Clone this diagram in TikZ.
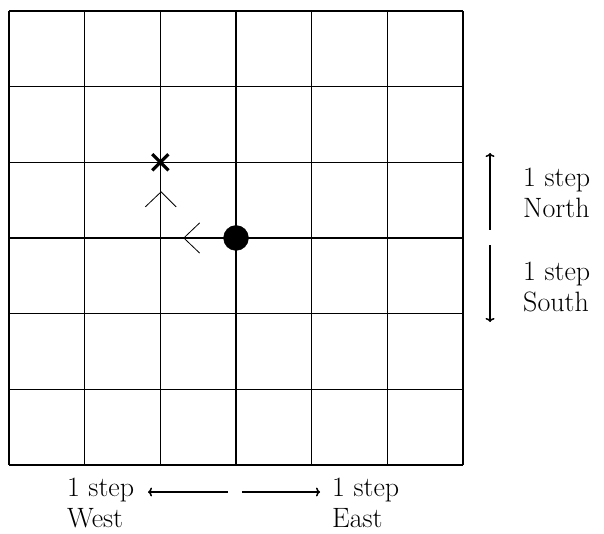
\documentclass[tikz,border=0pt]{standalone}
\usepackage{tikz}
\usetikzlibrary{shapes.misc,arrows.meta,positioning}

\tikzset{
  gridline/.style={line width=1.5pt},
  steparrow/.style={line width=1.5pt,-{To[length=4pt,width=9pt]}},
  chevron/.style={line width=0.8pt},
  steplabel/.style={align=left,inner sep=0pt,anchor=north west,font=\fontsize{28}{31}\selectfont}
}

\begin{document}
\begin{tikzpicture}[x=75.67pt,y=75.67pt]
              \useasboundingbox (-0.119,-0.899) rectangle (7.863,6.145);
              % the 6 x 6 board
              \draw[gridline] (0,0) grid[step=1] (6,6);
              % start point and goal
              \node[draw,shape=circle,fill=black,minimum size=25pt,inner sep=0] (start) at (3,3) {};
              \node[draw,shape=cross out,line width=3.2pt,minimum size=13pt,inner sep=0] (goal) at (2,4) {};
              % moves: one step west, one step north
              \draw[chevron] (2.52,3.2) -- (2.31,3) -- (2.52,2.8);
              \draw[chevron] (1.8,3.41) -- (2.01,3.61) -- (2.21,3.41);
              % north / south
              \coordinate (n0) at (6.357,3.106);
              \coordinate (n1) at (6.357,4.123);
              \coordinate (s0) at (6.357,2.907);
              \coordinate (s1) at (6.357,1.890);
              \draw[steparrow] (n0) -- (n1);
              \draw[steparrow] (s0) -- (s1);
              \node[steplabel] (north) at (6.793,3.93) {1 step\\North};
              \node[steplabel] (south) at (6.793,2.69) {1 step\\South};
              % west / east
              \coordinate (w0) at (2.894,-0.357);
              \coordinate (w1) at (1.837,-0.357);
              \coordinate (e0) at (3.079,-0.357);
              \coordinate (e1) at (4.110,-0.357);
              \draw[steparrow] (w0) -- (w1);
              \draw[steparrow] (e0) -- (e1);
              \node[steplabel] (west) at (0.766,-0.17) {1 step\\West};
              \node[steplabel] (east) at (4.269,-0.17) {1 step\\East};
            \end{tikzpicture}
\end{document}
